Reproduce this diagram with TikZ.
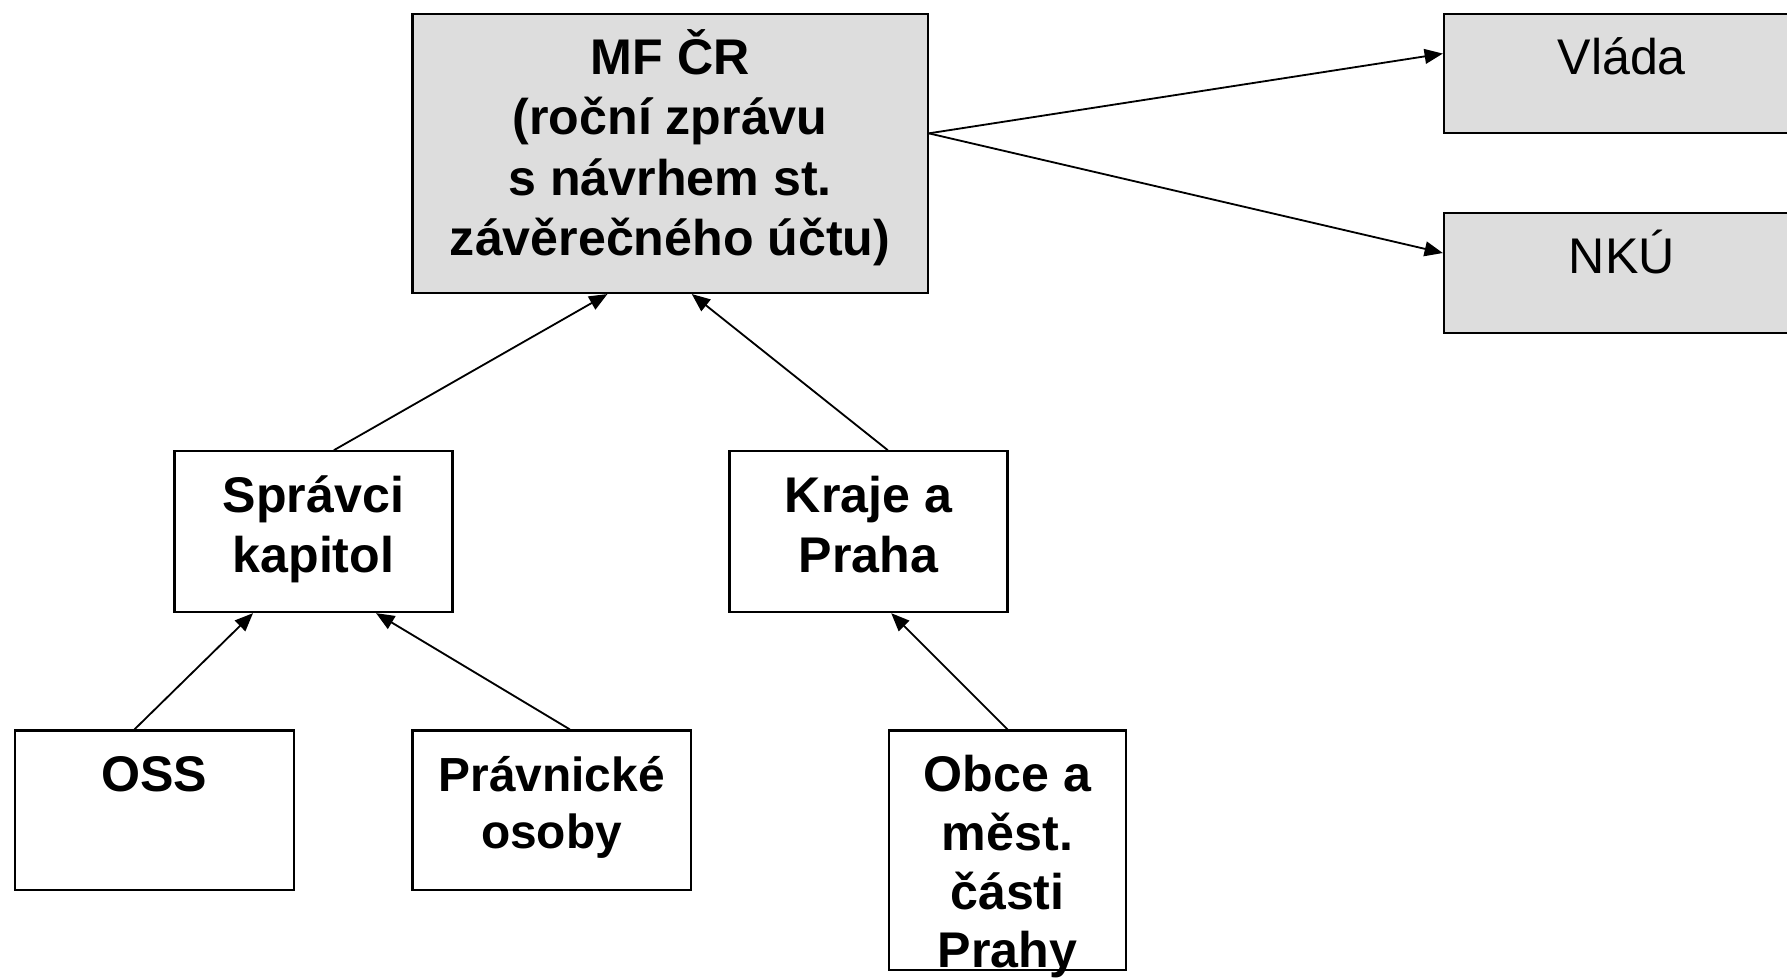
\documentclass[tikz,border=0pt]{standalone}
\usepackage{fontspec}
\setmainfont{Liberation Sans}
\usetikzlibrary{arrows.meta,positioning}
\definecolor{boxgray}{HTML}{DDDDDD}
\newcommand{\capstrut}{\rule{0pt}{22pt}}
\tikzset{>={Triangle[length=8pt,width=6.5pt]}}
\tikzset{
    box/.style={draw, line width=1pt, rectangle, inner sep=0pt},   % white box
    graybox/.style={box, fill=boxgray},                            % shaded box
    boxtext/.style={align=center, inner sep=0pt,
        font=\fontsize{22pt}{26.5pt}\selectfont\bfseries},
    thintext/.style={boxtext, font=\fontsize{22pt}{26.5pt}\selectfont},
    link/.style={->, line width=0.8pt},
}

\begin{document}
\begin{tikzpicture}[x=0.5pt,y=-0.5pt]
    \useasboundingbox (0,0) rectangle (1568,859);
    % boxes
    \node[graybox, minimum width=226pt, minimum height=122.5pt] (mf) at (588,134.5) {};
    \node[graybox, minimum width=156pt, minimum height=52.5pt] (vlada) at (1423,64.5) {};
    \node[graybox, minimum width=156pt, minimum height=52.5pt] (nku) at (1423,239.5) {};
    \node[box, minimum width=122pt, minimum height=70.5pt] (spravci) at (275,466.5) {};
    \node[box, minimum width=122pt, minimum height=70.5pt] (kraje) at (762,466.5) {};
    \node[box, minimum width=122.5pt, minimum height=70pt] (oss) at (135.5,711) {};
    \node[box, minimum width=122pt, minimum height=70pt] (pravnicke) at (484,711) {};
    \node[box, minimum width=104pt, minimum height=105pt] (obce) at (884,746) {};
    % texts
    \node[boxtext, below=5pt of mf.north] (mf-txt)
        {\capstrut MF ČR\\(roční zprávu\\s návrhem st.\\závěrečného účtu)};
    \node[thintext, below=5pt of vlada.north] (vlada-txt) {\capstrut Vláda};
    \node[thintext, below=5pt of nku.north] (nku-txt) {\capstrut NKÚ};
    \node[boxtext, below=5pt of spravci.north] (spravci-txt) {\capstrut Správci\\kapitol};
    \node[boxtext, below=5pt of kraje.north] (kraje-txt) {\capstrut Kraje a\\Praha};
    \node[boxtext, below=5pt of oss.north] (oss-txt) {\capstrut OSS};
    \node[boxtext, below=5pt of pravnicke.north, font=\fontsize{21pt}{25pt}\selectfont\bfseries] (pravnicke-txt)
        {\capstrut Právnické\\osoby};
    \node[boxtext, below=5pt of obce.north, font=\fontsize{22pt}{25.8pt}\selectfont\bfseries] (obce-txt)
        {\capstrut Obce a\\měst.\\části\\Prahy};
    % arrows
    \draw[link] ([yshift=8.75pt]mf.east) -- ([yshift=8.75pt]vlada.west);
    \draw[link] ([yshift=8.75pt]mf.east) -- ([yshift=8.75pt]nku.west);
    \draw[link] ([xshift=9pt]spravci.north) -- ([xshift=-27.5pt]mf.south);
    \draw[link] ([xshift=8.5pt]kraje.north) -- ([xshift=9.5pt]mf.south);
    \draw[link] ([xshift=-8.75pt]oss.north) -- ([xshift=-26.5pt]spravci.south);
    \draw[link] ([xshift=8pt]pravnicke.north) -- ([xshift=27.5pt]spravci.south);
    \draw[link] (obce.north) -- ([xshift=10pt]kraje.south);
\end{tikzpicture}
\end{document}
